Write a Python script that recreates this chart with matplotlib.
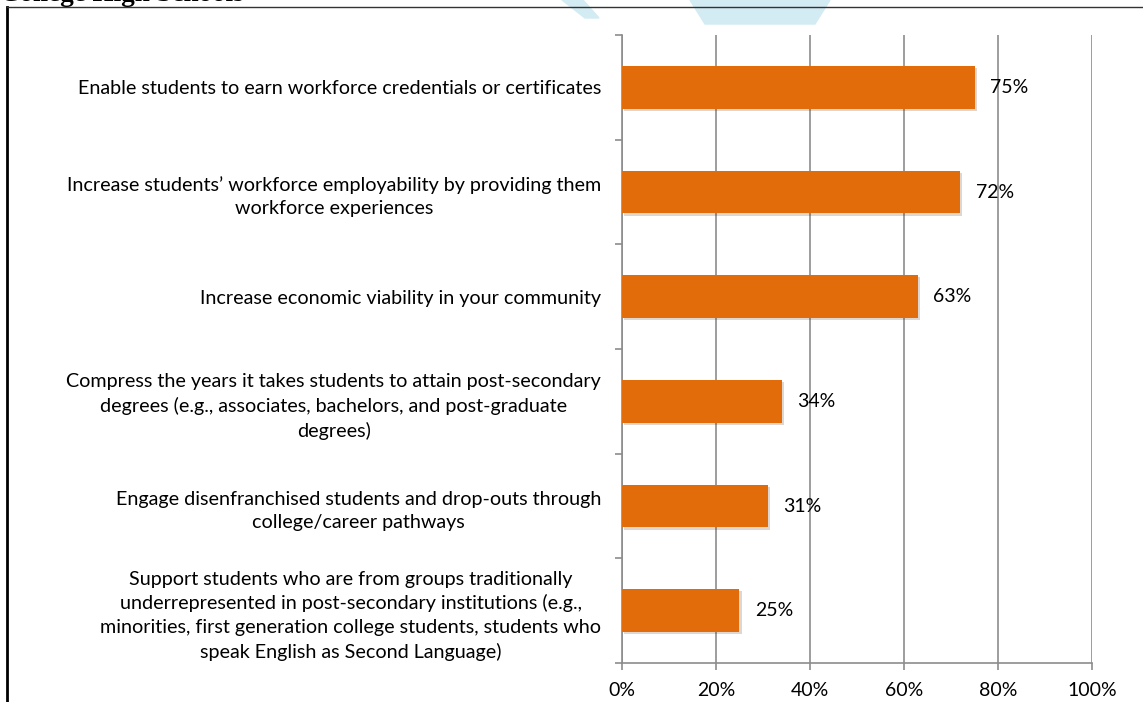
import matplotlib
matplotlib.use("Agg")
import matplotlib.pyplot as plt
from matplotlib.lines import Line2D
from matplotlib.patches import Polygon
import matplotlib.patheffects as pe

# ---- data ----
categories = [
    "Enable students to earn workforce credentials or certificates",
    "Increase students\u2019 workforce employability by providing them\nworkforce experiences",
    "Increase economic viability in your community",
    "Compress the years it takes students to attain post-secondary\ndegrees (e.g., associates, bachelors, and post-graduate\ndegrees)",
    "Engage disenfranchised students and drop-outs through\ncollege/career pathways",
    "Support students who are from groups traditionally\nunderrepresented in post-secondary institutions (e.g.,\nminorities, first generation college students, students who\nspeak English as Second Language)",
]
values = [75, 72, 63, 34, 31, 25]
x_ticks = [0, 20, 40, 60, 80, 100]
x_tick_labels = ["0%", "20%", "40%", "60%", "80%", "100%"]

BAR_COLOR = "#E36C0A"
GRID_COLOR = "#8C8C8C"
FONT = "Lato"

W, H = 1143, 702
fig = plt.figure(figsize=(W / 100, H / 100), dpi=100)


def fx(px):
    return px / W


def fy(py):
    return 1 - py / H


# faint watermark fragments peeking out at the top
wm = "#D3EBF2"
fig.patches.append(Polygon([(fx(562), fy(0)), (fx(583), fy(0)), (fx(599), fy(18)), (fx(585), fy(18))],
                           closed=True, transform=fig.transFigure, color=wm, zorder=0))
fig.patches.append(Polygon([(fx(690), fy(0)), (fx(830), fy(0)), (fx(815), fy(24)), (fx(705), fy(24))],
                           closed=True, transform=fig.transFigure, color=wm, zorder=0))

# cut-off heading from the page above
fig.text(0.0, fy(1), "College High Schools", family="Liberation Serif",
         fontweight="bold", fontsize=19.5, ha="left", va="baseline")

# page border (left + top)
fig.add_artist(Line2D([fx(7), fx(7)], [0, fy(7)], transform=fig.transFigure,
                      color="black", linewidth=2))
fig.add_artist(Line2D([fx(7), 1], [fy(7), fy(7)], transform=fig.transFigure,
                      color="#333333", linewidth=1))

ax = fig.add_axes([fx(622), fy(663), fx(1092 - 622), (663 - 35) / H])
ax.patch.set_alpha(0)

n = len(categories)
ypos = list(range(n))
bars = ax.barh(ypos, values, height=0.41, color=BAR_COLOR, zorder=3)
for b in bars:
    b.set_path_effects([pe.SimplePatchShadow(offset=(1.5, -1.5), alpha=0.18), pe.Normal()])

for y, v in zip(ypos, values):
    ax.annotate(f"{v}%", (v, y), xytext=(11, 0), textcoords="offset points",
                va="center", ha="left", fontsize=14, family=FONT, zorder=4)

ax.set_xlim(0, 100)
ax.set_ylim(n - 0.5, -0.5)
ax.set_xticks(x_ticks)
ax.set_xticklabels(x_tick_labels, family=FONT, fontsize=14)
ax.set_yticks(ypos)
ax.set_yticklabels(categories, family=FONT, fontsize=14.2)
for lbl in ax.get_yticklabels():
    lbl.set_multialignment("center")
    lbl.set_linespacing(1.45)
ax.set_yticks([i - 0.5 for i in range(n + 1)], minor=True)

ax.tick_params(axis="y", which="major", length=0, pad=15)
ax.tick_params(axis="y", which="minor", length=5, color=GRID_COLOR, width=1.2)
ax.tick_params(axis="x", which="major", length=5, color=GRID_COLOR, width=1.2, pad=9)

ax.grid(axis="x", color=GRID_COLOR, linewidth=1.2, zorder=0)
for side in ["top", "right"]:
    ax.spines[side].set_visible(False)
for side in ["left", "bottom"]:
    ax.spines[side].set_color(GRID_COLOR)
    ax.spines[side].set_linewidth(1.2)

fig.savefig("out.png", dpi=100)
